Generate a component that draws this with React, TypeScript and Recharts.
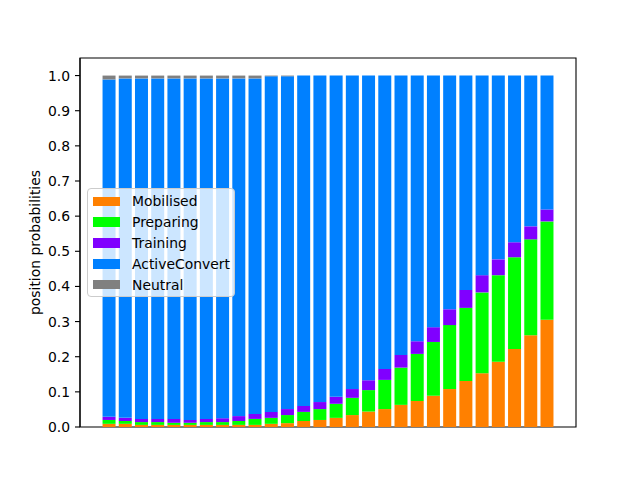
import React from 'react'
import {
  BarChart,
  Bar,
  XAxis,
  YAxis,
  Legend,
  ReferenceArea,
} from 'recharts'

// one entry per bar, left to right (no x tick labels are shown)
const positions = [
  0, 1, 2, 3, 4, 5, 6, 7, 8, 9, 10, 11, 12, 13, 14, 15, 16, 17, 18, 19, 20,
  21, 22, 23, 24, 25, 26, 27,
]

const mobilised = [
  0.009, 0.009, 0.006, 0.006, 0.006, 0.006, 0.006, 0.006, 0.006, 0.006, 0.009,
  0.011, 0.017, 0.02, 0.026, 0.034, 0.044, 0.051, 0.063, 0.074, 0.089, 0.108,
  0.131, 0.153, 0.186, 0.222, 0.261, 0.305,
]
const preparing = [
  0.011, 0.008, 0.008, 0.008, 0.006, 0.006, 0.008, 0.008, 0.011, 0.017, 0.017,
  0.023, 0.026, 0.031, 0.04, 0.049, 0.061, 0.083, 0.106, 0.134, 0.153, 0.182,
  0.208, 0.23, 0.246, 0.261, 0.273, 0.28,
]
const training = [
  0.009, 0.009, 0.009, 0.009, 0.011, 0.008, 0.009, 0.011, 0.014, 0.014, 0.017,
  0.017, 0.017, 0.02, 0.02, 0.025, 0.028, 0.031, 0.036, 0.036, 0.042, 0.045,
  0.051, 0.049, 0.045, 0.043, 0.037, 0.034,
]
const activeConvert = [
  0.96, 0.966, 0.969, 0.969, 0.969, 0.972, 0.969, 0.967, 0.961, 0.955, 0.955,
  0.947, 0.94, 0.929, 0.914, 0.892, 0.867, 0.835, 0.795, 0.756, 0.716, 0.665,
  0.61, 0.568, 0.523, 0.474, 0.429, 0.381,
]
const neutral = [
  0.011, 0.008, 0.008, 0.008, 0.008, 0.008, 0.008, 0.008, 0.008, 0.008, 0.002,
  0.002, 0, 0, 0, 0, 0, 0, 0, 0, 0, 0, 0, 0, 0, 0, 0, 0,
]

const yTicks = [0, 0.1, 0.2, 0.3, 0.4, 0.5, 0.6, 0.7, 0.8, 0.9, 1.0]

const series = [
  { key: 'Mobilised', values: mobilised, color: '#ff8000' },
  { key: 'Preparing', values: preparing, color: '#00ff00' },
  { key: 'Training', values: training, color: '#8000ff' },
  { key: 'ActiveConvert', values: activeConvert, color: '#0080ff' },
  { key: 'Neutral', values: neutral, color: '#808080' },
]

const data = positions.map((p, i) => {
  const row: Record<string, number> = { pos: p }
  series.forEach((s) => {
    row[s.key] = s.values[i]
  })
  return row
})

// matplotlib-like limits: bars of width 0.8 plus a 5% margin
const X_DOMAIN: [number, number] = [-1.79, 28.79]
const Y_DOMAIN: [number, number] = [0, 1.05]

const FONT = '"DejaVu Sans", sans-serif'

function LegendBox() {
  return (
    <div
      style={{
        boxSizing: 'border-box',
        width: 148,
        height: 109,
        paddingTop: 2,
        background: 'rgba(255,255,255,0.8)',
        border: '1px solid #cccccc',
        borderRadius: 4,
        fontFamily: FONT,
        fontSize: 13.9,
        color: '#000',
      }}
    >
      {series.map((s) => (
        <div
          key={s.key}
          style={{ display: 'flex', alignItems: 'center', height: 20.8 }}
        >
          <span
            style={{
              display: 'inline-block',
              width: 27,
              height: 9.7,
              marginLeft: 5,
              background: s.color,
            }}
          />
          <span style={{ marginLeft: 12, lineHeight: '14px' }}>{s.key}</span>
        </div>
      ))}
    </div>
  )
}

export default function App() {
  return (
    <div style={{ position: 'absolute', left: 0, top: 0 }}>
      <BarChart
        width={640}
        height={480}
        data={data}
        margin={{ top: 58, right: 64, left: 0, bottom: 53 }}
        barCategoryGap="10%"
      >
        <XAxis
          dataKey="pos"
          type="number"
          domain={X_DOMAIN}
          allowDataOverflow
          height={0}
          tick={false}
          tickLine={false}
          axisLine={{ stroke: '#000', strokeWidth: 1.1 }}
        />
        <YAxis
          width={80}
          type="number"
          domain={Y_DOMAIN}
          ticks={yTicks}
          interval={0}
          allowDataOverflow
          tickFormatter={(v: number) => v.toFixed(1)}
          tickSize={5}
          tickMargin={5}
          tick={{ fill: '#000', fontSize: 13.9, fontFamily: FONT }}
          tickLine={{ stroke: '#000', strokeWidth: 1.1 }}
          axisLine={{ stroke: '#000', strokeWidth: 1.1 }}
          label={{
            value: 'position probabilities',
            angle: -90,
            position: 'insideLeft',
            offset: 35,
            style: {
              textAnchor: 'middle',
              fill: '#000',
              fontSize: 13.9,
              fontFamily: FONT,
            },
          }}
        />
        <Legend
          layout="vertical"
          align="center"
          verticalAlign="middle"
          content={<LegendBox />}
          wrapperStyle={{ left: 87, top: 188, width: 148 }}
        />
        {series.map((s) => (
          <Bar
            key={s.key}
            dataKey={s.key}
            stackId="a"
            fill={s.color}
            isAnimationActive={false}
          />
        ))}
        {/* axes frame around the whole plot area */}
        <ReferenceArea
          x1={X_DOMAIN[0]}
          x2={X_DOMAIN[1]}
          y1={Y_DOMAIN[0]}
          y2={Y_DOMAIN[1]}
          ifOverflow="visible"
          fill="none"
          fillOpacity={0}
          stroke="#000"
          strokeWidth={1.1}
          strokeOpacity={1}
        />
      </BarChart>
    </div>
  )
}
